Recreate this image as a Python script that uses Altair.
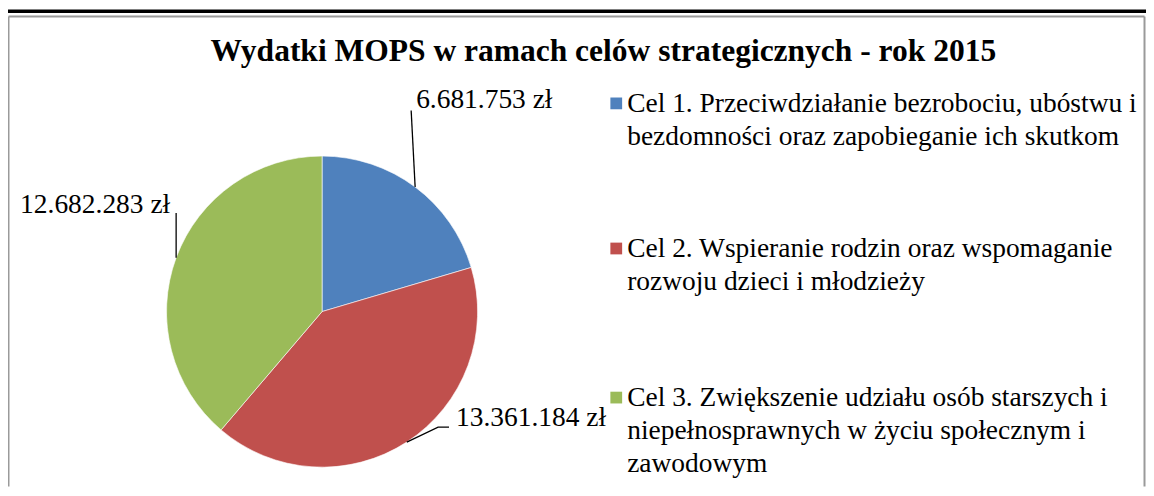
import math
import altair as alt
import pandas as pd

# ---------------- data ----------------
categories = ["Cel 1", "Cel 2", "Cel 3"]
values = [6681753, 13361184, 12682283]
value_labels = ["6.681.753 zł", "13.361.184 zł", "12.682.283 zł"]
colors = ["#4F81BD", "#C0504D", "#9BBB59"]
legend_lines = [
    ["Cel 1. Przeciwdziałanie bezrobociu, ubóstwu i",
     "bezdomności oraz zapobieganie ich skutkom"],
    ["Cel 2. Wspieranie rodzin oraz wspomaganie",
     "rozwoju dzieci i młodzieży"],
    ["Cel 3. Zwiększenie udziału osób starszych i",
     "niepełnosprawnych w życiu społecznym i",
     "zawodowym"],
]
title_text = "Wydatki MOPS w ramach celów strategicznych - rok 2015"

# ---------------- layout (styling) ----------------
W, H = 1145, 480
CX, CY, R = 316.0, 304.0, 156.5
FONT = "Liberation Serif, Times New Roman, serif"
FS = 27.6
# leader-line bend points and label anchors relative to the slice edge point
leader_offsets = [
    [(0, 0), (-4, -77)],
    [(0, 0), (31.5, -15), (42.5, -15)],
    [(0, 0), (0, -45)],
]
label_offsets = [(1, -79), (49.5, -16), (-6, -45)]
label_align = ["left", "left", "right"]
legend_top = [103, 249, 399]       # baseline of first line (chart coords)
legend_line_h = 33
legend_sq_x = 612
legend_text_x = 623

# ---------------- derived tables ----------------
total = sum(values)
pie_df = pd.DataFrame({"cat": categories, "value": values, "idx": range(len(values))})

lead_rows, lab_rows = [], []
cum = 0.0
for i, v in enumerate(values):
    mid = (cum + v / 2) / total * 2 * math.pi
    cum += v
    ex = CX + R * math.sin(mid)
    ey = CY - R * math.cos(mid)
    for j, (dx, dy) in enumerate(leader_offsets[i]):
        lead_rows.append({"seg": i, "ord": j, "x": ex + dx, "y": ey + dy})
    lab_rows.append({"x": ex + label_offsets[i][0], "y": ey + label_offsets[i][1],
                     "text": value_labels[i], "align": label_align[i]})
lead_df = pd.DataFrame(lead_rows)
lab_df = pd.DataFrame(lab_rows)

leg_sq, leg_txt = [], []
for i, lines in enumerate(legend_lines):
    leg_sq.append({"cat": categories[i], "x": legend_sq_x, "y": legend_top[i] - 8.5})
    for k, t in enumerate(lines):
        leg_txt.append({"x": legend_text_x, "y": legend_top[i] + k * legend_line_h, "text": t})
leg_sq_df = pd.DataFrame(leg_sq)
leg_txt_df = pd.DataFrame(leg_txt)

xs = alt.Scale(domain=[0, W], nice=False, zero=False)
ys = alt.Scale(domain=[0, H], nice=False, zero=False, reverse=True)
cs = alt.Scale(domain=categories, range=colors)

# ---------------- layers ----------------
frame_df = pd.DataFrame({"x": [0.5, 0.5, W - 1.5], "y": [H, 7, 7], "x2": [0.5, W - 1.5, W - 1.5], "y2": [7, 7, H]})
frame = alt.Chart(frame_df).mark_rule(color="#9a9a9a", strokeWidth=2).encode(
    x=alt.X("x:Q", scale=xs, axis=None), y=alt.Y("y:Q", scale=ys, axis=None),
    x2="x2:Q", y2="y2:Q")

topbar = alt.Chart(pd.DataFrame({"a": [0]})).mark_rect(color="black").encode(
    x=alt.value(0), x2=alt.value(W), y=alt.value(0), y2=alt.value(3.5))

title = alt.Chart(pd.DataFrame({"text": [title_text]})).mark_text(
    font=FONT, fontSize=31.7, fontWeight="bold", color="black", align="center", baseline="alphabetic"
).encode(x=alt.value(599), y=alt.value(52), text="text:N")

pie = alt.Chart(pie_df).mark_arc(radius=R, stroke="white", strokeWidth=0.6).encode(
    theta=alt.Theta("value:Q", stack=True),
    order=alt.Order("idx:Q"),
    color=alt.Color("cat:N", scale=cs, legend=None),
    x=alt.value(CX), y=alt.value(CY),
)

leaders = alt.Chart(lead_df).mark_line(color="black", strokeWidth=1.3).encode(
    x=alt.X("x:Q", scale=xs, axis=None), y=alt.Y("y:Q", scale=ys, axis=None),
    detail="seg:N", order="ord:Q")

lab_left = alt.Chart(lab_df).transform_filter(alt.datum.align == "left").mark_text(
    font=FONT, fontSize=FS, color="black", align="left", baseline="alphabetic"
).encode(x=alt.X("x:Q", scale=xs, axis=None), y=alt.Y("y:Q", scale=ys, axis=None), text="text:N")

lab_right = alt.Chart(lab_df).transform_filter(alt.datum.align == "right").mark_text(
    font=FONT, fontSize=FS, color="black", align="right", baseline="alphabetic"
).encode(x=alt.X("x:Q", scale=xs, axis=None), y=alt.Y("y:Q", scale=ys, axis=None), text="text:N")

leg_squares = alt.Chart(leg_sq_df).mark_square(size=140, opacity=1, filled=True).encode(
    x=alt.X("x:Q", scale=xs, axis=None), y=alt.Y("y:Q", scale=ys, axis=None),
    color=alt.Color("cat:N", scale=cs, legend=None))

leg_text = alt.Chart(leg_txt_df).mark_text(
    font=FONT, fontSize=FS, color="black", align="left", baseline="alphabetic"
).encode(x=alt.X("x:Q", scale=xs, axis=None), y=alt.Y("y:Q", scale=ys, axis=None), text="text:N")

chart = alt.layer(
    frame, topbar, title, pie, leaders, lab_left, lab_right, leg_squares, leg_text
).properties(
    width=W, height=H, padding=0, autosize=alt.AutoSizeParams(type="none"),
    background="white",
).configure_view(stroke=None)

chart.save("out.html", embed_options={"renderer": "svg", "actions": False})
